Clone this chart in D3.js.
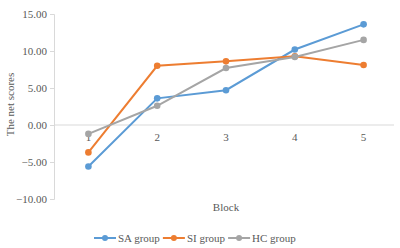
<!DOCTYPE html>
<html lang="en">
  <head>
    <meta charset="UTF-8" />
    <title>Net scores by block</title>
    <script src="https://d3js.org/d3.v7.min.js"></script>
    <style>
      body {
        margin: 0;
        background: #fff;
      }
      svg text {
        font-family: "Liberation Serif", "Times New Roman", "DejaVu Serif", serif !important;
      }
    </style>
  </head>
  <body>
    <svg width="400" height="248"></svg>
    <script>
      // data
      const blocks = ["1", "2", "3", "4", "5"];
      const saGroup = [-5.6, 3.6, 4.7, 10.2, 13.6];
      const siGroup = [-3.7, 8.0, 8.6, 9.3, 8.1];
      const hcGroup = [-1.2, 2.6, 7.7, 9.2, 11.5];
      const yTicks = [-10, -5, 0, 5, 10, 15];

      const series = [
        { name: "SA group", values: saGroup, color: "#5B9BD5" },
        { name: "SI group", values: siGroup, color: "#ED7D31" },
        { name: "HC group", values: hcGroup, color: "#A5A5A5" },
      ];

      const svg = d3.select("svg");
      const margin = { top: 14, right: 2, bottom: 49, left: 54 };
      const width = 400 - margin.left - margin.right;
      const height = 248 - margin.top - margin.bottom;

      const g = svg
        .append("g")
        .attr("transform", `translate(${margin.left},${margin.top})`);

      const x = d3.scaleBand().domain(blocks).range([0, width]);
      const y = d3.scaleLinear().domain([-10, 15]).range([height, 0]);
      const cx = (i) => x(blocks[i]) + x.bandwidth() / 2;

      // y axis
      const yAxis = g
        .append("g")
        .call(
          d3
            .axisLeft(y)
            .tickValues(yTicks)
            .tickFormat(d3.format(".2f"))
            .tickSize(4)
            .tickPadding(3)
        );
      yAxis.select(".domain").attr("stroke", "#d9d9d9");
      yAxis.selectAll(".tick line").attr("stroke", "#d9d9d9");
      yAxis
        .selectAll("text")
        .attr("fill", "#595959")
        .style("font-size", "11px");

      // zero line
      g.append("line")
        .attr("x1", 0)
        .attr("x2", width - 4)
        .attr("y1", y(0))
        .attr("y2", y(0))
        .attr("stroke", "#d9d9d9")
        .attr("stroke-width", 1);

      // category labels under the zero line
      g.selectAll(".cat")
        .data(blocks)
        .enter()
        .append("text")
        .attr("x", (d, i) => cx(i))
        .attr("y", y(0) + 16)
        .attr("text-anchor", "middle")
        .attr("fill", "#595959")
        .style("font-size", "11px")
        .text((d) => d);

      // lines + markers
      const line = d3
        .line()
        .x((d, i) => cx(i))
        .y((d) => y(d));

      series.forEach((s) => {
        g.append("path")
          .datum(s.values)
          .attr("fill", "none")
          .attr("stroke", s.color)
          .attr("stroke-width", 2)
          .attr("d", line);
        g.selectAll(null)
          .data(s.values)
          .enter()
          .append("circle")
          .attr("cx", (d, i) => cx(i))
          .attr("cy", (d) => y(d))
          .attr("r", 3.3)
          .attr("fill", s.color);
      });

      // axis titles
      svg
        .append("text")
        .attr("x", margin.left + width / 2)
        .attr("y", 211)
        .attr("text-anchor", "middle")
        .attr("fill", "#595959")
        .style("font-size", "11px")
        .text("Block");

      svg
        .append("text")
        .attr("transform", `translate(14,${margin.top + height / 2 - 2}) rotate(-90)`)
        .attr("text-anchor", "middle")
        .attr("fill", "#595959")
        .style("font-size", "11px")
        .text("The net scores");

      // legend
      const legend = svg.append("g").attr("transform", "translate(94,238)");
      let lx = 0;
      series.forEach((s) => {
        const item = legend.append("g").attr("transform", `translate(${lx},0)`);
        item
          .append("line")
          .attr("x1", 0)
          .attr("x2", 22)
          .attr("stroke", s.color)
          .attr("stroke-width", 2);
        item
          .append("circle")
          .attr("cx", 11)
          .attr("r", 3)
          .attr("fill", s.color);
        const t = item
          .append("text")
          .attr("x", 24)
          .attr("dy", "0.35em")
          .attr("fill", "#595959")
          .style("font-size", "11px")
          .text(s.name);
        lx += 24 + t.node().getComputedTextLength() + 3;
      });
    </script>
  </body>
</html>
